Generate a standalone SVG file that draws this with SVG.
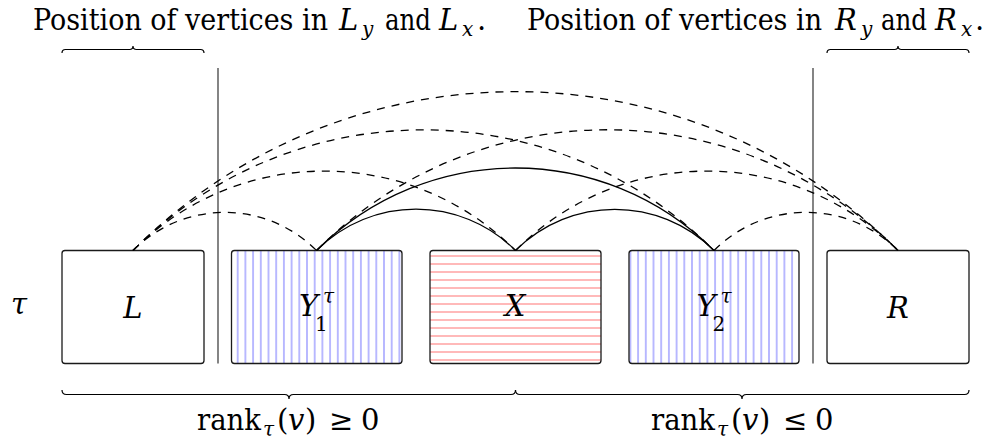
<svg xmlns="http://www.w3.org/2000/svg" width="988" height="439" viewBox="0 0 988 439">
<style>
text{fill:#000;font-size:29px;font-family:"DejaVu Serif",serif}
.it{font-style:italic}
.sub{font-size:20px}
.box{stroke:#1a1a1a;stroke-width:1.3}
.arc{fill:none;stroke:#000;stroke-width:1.3}
.dash{stroke-dasharray:8 7}
.brace{fill:none;stroke:#000;stroke-width:1.2}
.sep{stroke:#333;stroke-width:1.2}
</style>
<defs>
<pattern id="vlines" patternUnits="userSpaceOnUse" x="233.85" y="0" width="7.7" height="10">
<line x1="3.85" y1="0" x2="3.85" y2="10" stroke="#8c8cff" stroke-width="1.2"/>
</pattern>
<pattern id="hlines" patternUnits="userSpaceOnUse" x="0" y="252" width="10" height="8">
<line x1="0" y1="4" x2="10" y2="4" stroke="#ff9a9a" stroke-width="1.4"/>
</pattern>
</defs>
<rect width="988" height="439" fill="#fff"/>

<g id="title-left">
<text x="33" y="30"><tspan textLength="295" lengthAdjust="spacingAndGlyphs">Position of vertices in</tspan><tspan class="it" x="339">L</tspan><tspan class="it sub" x="362" dy="6">y</tspan><tspan x="385" dy="-6" textLength="46" lengthAdjust="spacingAndGlyphs">and</tspan><tspan class="it" x="439">L</tspan><tspan class="it sub" x="462" dy="6">x</tspan><tspan x="477" dy="-6">.</tspan></text>
</g>
<g id="title-right">
<text x="527" y="30"><tspan textLength="295" lengthAdjust="spacingAndGlyphs">Position of vertices in</tspan><tspan class="it" x="835">R</tspan><tspan class="it sub" x="861" dy="6">y</tspan><tspan x="881" dy="-6" textLength="46" lengthAdjust="spacingAndGlyphs">and</tspan><tspan class="it" x="935">R</tspan><tspan class="it sub" x="961" dy="6">x</tspan><tspan x="975" dy="-6">.</tspan></text>
</g>

<g id="braces">
<path class="brace" d="M62,53 Q62,49.5 65.5,49.5 L129.5,49.5 Q133,49.5 133,46 Q133,49.5 136.5,49.5 L200.5,49.5 Q204,49.5 204,53"/>
<path class="brace" d="M827,53 Q827,49.5 830.5,49.5 L894.5,49.5 Q898,49.5 898,46 Q898,49.5 901.5,49.5 L965.5,49.5 Q969,49.5 969,53"/>
<path class="brace" d="M62,390 Q62,394.5 66.5,394.5 L284.5,394.5 Q289,394.5 289,399 Q289,394.5 293.5,394.5 L511,394.5 Q515.5,394.5 515.5,390"/>
<path class="brace" d="M515.5,390 Q515.5,394.5 520,394.5 L737.5,394.5 Q742,394.5 742,399 Q742,394.5 746.5,394.5 L964.5,394.5 Q969,394.5 969,390"/>
</g>

<g id="separators">
<line class="sep" x1="218" y1="68" x2="218" y2="363.5"/>
<line class="sep" x1="813" y1="68" x2="813" y2="363.5"/>
</g>

<text id="tau" class="it" x="11" y="314">τ</text>

<g id="node-L">
<rect class="box" x="62" y="250.5" width="142" height="113" rx="3" fill="#fff"/>
<text class="it" x="133" y="318" text-anchor="middle">L</text>
</g>
<g id="node-Y1">
<rect class="box" x="231.5" y="250.5" width="170.5" height="113" rx="3" fill="url(#vlines)"/>
<text x="299" y="316"><tspan class="it">Y</tspan><tspan class="sub" x="315" dy="15">1</tspan><tspan class="it sub" x="323" dy="-28">τ</tspan></text>
</g>
<g id="node-X">
<rect class="box" x="430" y="250.5" width="171" height="113" rx="3" fill="url(#hlines)"/>
<text class="it" x="515" y="316" text-anchor="middle">X</text>
</g>
<g id="node-Y2">
<rect class="box" x="629" y="250.5" width="170" height="113" rx="3" fill="url(#vlines)"/>
<text x="696.5" y="316"><tspan class="it">Y</tspan><tspan class="sub" x="712.5" dy="15">2</tspan><tspan class="it sub" x="720.5" dy="-28">τ</tspan></text>
</g>
<g id="node-R">
<rect class="box" x="827" y="250.5" width="142" height="113" rx="3" fill="#fff"/>
<text class="it" x="898" y="318" text-anchor="middle">R</text>
</g>

<g id="connectors">
<path class="arc" d="M316.5,250.5 C371.6,195.4 460.4,195.4 515.5,250.5"/>
<path class="arc" d="M515.5,250.5 C570.4,195.6 659.1,195.6 714,250.5"/>
<path class="arc" d="M316.5,250.5 C426.5,140.5 604,140.5 714,250.5"/>
<path class="arc dash" d="M133,250.5 C183.8,199.7 265.7,199.7 316.5,250.5"/>
<path class="arc dash" d="M133,250.5 C238.9,144.6 409.6,144.6 515.5,250.5"/>
<path class="arc dash" d="M133,250.5 C293.8,89.7 553.2,89.7 714,250.5"/>
<path class="arc dash" d="M133,250.5 C344.8,38.7 686.2,38.7 898,250.5"/>
<path class="arc dash" d="M316.5,250.5 C477.5,89.5 737,89.5 898,250.5"/>
<path class="arc dash" d="M515.5,250.5 C621.4,144.6 792.1,144.6 898,250.5"/>
<path class="arc dash" d="M714,250.5 C764.9,199.6 847.1,199.6 898,250.5"/>
</g>

<g id="rank-left">
<text x="197" y="430"><tspan textLength="64" lengthAdjust="spacingAndGlyphs">rank</tspan><tspan class="it sub" x="263" dy="6">τ</tspan><tspan x="277" dy="-6">(</tspan><tspan class="it" x="288">v</tspan><tspan x="305">)</tspan><tspan x="329">≥</tspan><tspan x="361">0</tspan></text>
</g>
<g id="rank-right">
<text x="651" y="430"><tspan textLength="64" lengthAdjust="spacingAndGlyphs">rank</tspan><tspan class="it sub" x="717" dy="6">τ</tspan><tspan x="731" dy="-6">(</tspan><tspan class="it" x="742">v</tspan><tspan x="759">)</tspan><tspan x="783">≤</tspan><tspan x="815">0</tspan></text>
</g>
</svg>
